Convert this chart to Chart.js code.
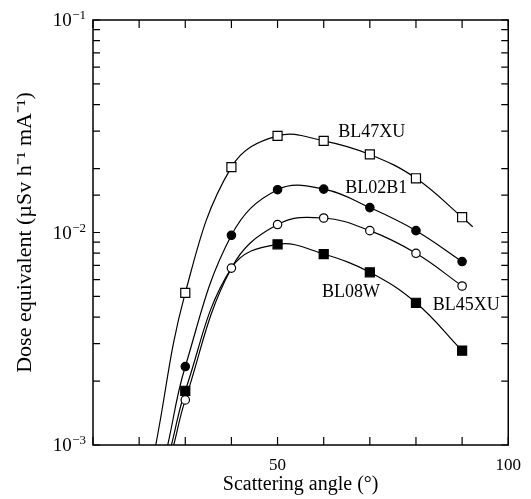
<!DOCTYPE html>
<html>
<head>
<meta charset="utf-8">
<script src="https://cdn.jsdelivr.net/npm/chart.js@4.4.0/dist/chart.umd.min.js"></script>
<style>
    html, body { margin: 0; padding: 0; background: #fff; }
    #doseChart { display: block; }
</style>
</head>
<body>
<canvas id="doseChart" width="531" height="499"></canvas>
<script>
// scattering angles (deg) where the dose was measured
const angles = [30, 40, 50, 60, 70, 80, 90];

// dose equivalent, uSv h-1 mA-1
const bl47xu = [5.2e-3, 2.03e-2, 2.85e-2, 2.70e-2, 2.33e-2, 1.80e-2, 1.18e-2];
const bl02b1 = [2.34e-3, 9.7e-3, 1.59e-2, 1.60e-2, 1.31e-2, 1.02e-2, 7.3e-3];
const bl45xu = [1.63e-3, 6.8e-3, 1.09e-2, 1.17e-2, 1.02e-2, 7.98e-3, 5.6e-3];
const bl08w = [1.80e-3, 6.8e-3, 8.8e-3, 7.92e-3, 6.5e-3, 4.67e-3, 2.78e-3];
// BL08W marker at 40 deg sits under the BL45XU circle
const bl08wHiddenAt = [40];

// where each fitted curve leaves the bottom axis (angle, dose)
const tail47 = [23.6, 1e-3];
const tail02 = [26.2, 1e-3];
const tail45 = [27.5, 1e-3];
const tail08 = [27.0, 1e-3];
// BL47XU fit runs a little past the last point
const end47 = [92.3, 1.065e-2];

const seriesNames = ['BL47XU', 'BL02B1', 'BL45XU', 'BL08W'];

const xTicks = [50, 100];
const yDecades = [-3, -2, -1];

function buildPoints(vals, tail, end, hidden) {
    const pts = [{ x: tail[0], y: tail[1], fit: true }];
    angles.forEach((a, i) => pts.push({ x: a, y: vals[i], fit: !!(hidden && hidden.includes(a)) }));
    if (end) pts.push({ x: end[0], y: end[1], fit: true });
    return pts;
}

function makeDataset(label, pts, style, filled, radius) {
    return {
        label: label,
        data: pts,
        borderColor: '#000',
        borderWidth: 1.2,
        tension: 0.4,
        pointStyle: style,
        pointRadius: ctx => (ctx.raw && ctx.raw.fit ? 0 : radius),
        pointBackgroundColor: filled ? '#000' : '#fff',
        pointBorderColor: '#000',
        pointBorderWidth: 1.2,
        pointHoverRadius: 0
    };
}

// label anchors in data coordinates
const labelSpots = [
    [70.4, 2.97e-2],
    [71.4, 1.62e-2],
    [90.9, 4.56e-3],
    [65.9, 5.25e-3]
];

const serif = '"Liberation Serif", "Times New Roman", serif';

const frameTicks = {
    id: 'frameTicks',
    afterDraw(chart) {
        const { ctx, chartArea: a, scales: { x, y } } = chart;
        ctx.save();
        ctx.strokeStyle = '#000';
        ctx.lineWidth = 1.2;
        ctx.beginPath();
        x.ticks.forEach(t => {
            const px = x.getPixelForValue(t.value);
            ctx.moveTo(px, a.bottom); ctx.lineTo(px, a.bottom - 8);
            ctx.moveTo(px, a.top); ctx.lineTo(px, a.top + 8);
        });
        y.ticks.forEach(t => {
            const py = y.getPixelForValue(t.value);
            ctx.moveTo(a.left, py); ctx.lineTo(a.left + 7, py);
            ctx.moveTo(a.right, py); ctx.lineTo(a.right - 7, py);
        });
        ctx.stroke();
        ctx.lineWidth = 1.5;
        ctx.strokeRect(a.left, a.top, a.right - a.left, a.bottom - a.top);

        ctx.fillStyle = '#000';

        // y decade labels, 10 with a raised exponent
        ctx.textAlign = 'right';
        ctx.textBaseline = 'alphabetic';
        yDecades.forEach(e => {
            const py = y.getPixelForValue(Math.pow(10, e));
            const right = a.left - 7;
            const exp = '\u2212' + Math.abs(e);
            ctx.font = '13px ' + serif;
            const w = ctx.measureText(exp).width;
            ctx.fillText(exp, right, py - 1);
            ctx.font = '19px ' + serif;
            ctx.fillText('10', right - w - 0.5, py + 6);
        });

        ctx.font = '18px ' + serif;
        ctx.textAlign = 'center';
        ctx.textBaseline = 'middle';
        seriesNames.forEach((name, i) => {
            ctx.fillText(name, x.getPixelForValue(labelSpots[i][0]), y.getPixelForValue(labelSpots[i][1]));
        });
        ctx.restore();
    }
};

new Chart(document.getElementById('doseChart'), {
    type: 'line',
    data: {
        datasets: [
            makeDataset('BL47XU', buildPoints(bl47xu, tail47, end47), 'rect', false, 6.4),
            makeDataset('BL45XU', buildPoints(bl45xu, tail45), 'circle', false, 4.2),
            makeDataset('BL02B1', buildPoints(bl02b1, tail02), 'circle', true, 4.2),
            makeDataset('BL08W', buildPoints(bl08w, tail08, null, bl08wHiddenAt), 'rect', true, 6.4)
        ]
    },
    options: {
        responsive: false,
        animation: false,
        layout: { padding: { top: 20, right: 13, left: 0, bottom: 0 } },
        plugins: {
            legend: { display: false },
            tooltip: { enabled: false }
        },
        scales: {
            x: {
                type: 'linear',
                min: 10,
                max: 100,
                grid: { display: false, drawTicks: false },
                border: { display: false },
                ticks: {
                    stepSize: 10,
                    autoSkip: false,
                    maxRotation: 0,
                    padding: 10,
                    color: '#000',
                    font: { family: serif, size: 17 },
                    callback: v => (xTicks.includes(v) ? String(v) : '')
                },
                title: {
                    display: true,
                    text: 'Scattering angle (\u00B0)',
                    color: '#000',
                    font: { family: serif, size: 20 },
                    padding: { top: 4, bottom: 2 }
                },
                afterFit: s => { s.height = 54; }
            },
            y: {
                type: 'logarithmic',
                min: 1e-3,
                max: 1e-1,
                grid: { display: false, drawTicks: false },
                border: { display: false },
                ticks: { display: false },
                title: {
                    display: true,
                    text: 'Dose equivalent (\u00B5Sv h\u207B\u00B9 mA\u207B\u00B9)',
                    color: '#000',
                    font: { family: serif, size: 22 },
                    padding: { top: 12, bottom: 4 }
                },
                afterFit: s => { s.width = 93; }
            }
        }
    },
    plugins: [frameTicks]
});
</script>
</body>
</html>
